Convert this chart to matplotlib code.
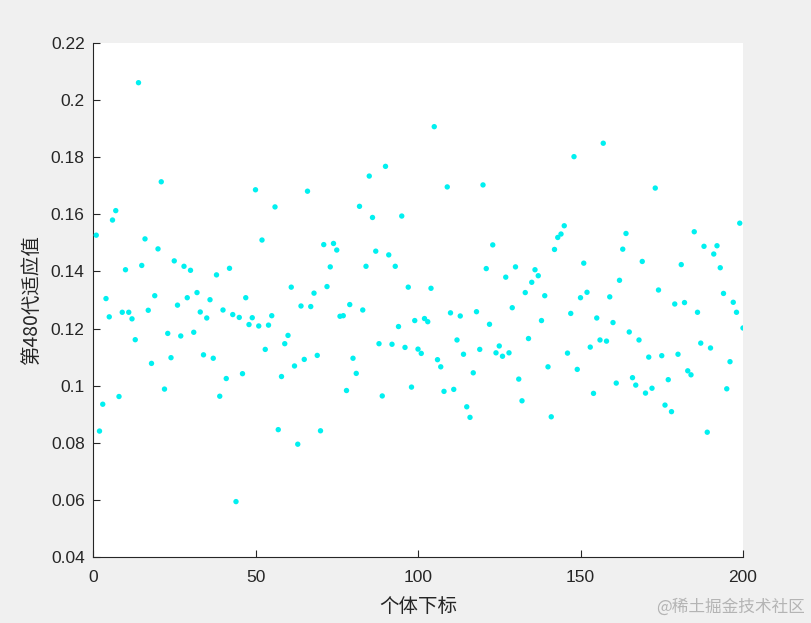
import matplotlib
matplotlib.use("Agg")
import matplotlib.pyplot as plt
import numpy as np

fitness = [
    0.1527, 0.0841, 0.0935, 0.1305, 0.1241, 0.1580, 0.1613, 0.0962, 0.1257, 0.1406,
    0.1257, 0.1234, 0.1161, 0.2061, 0.1421, 0.1514, 0.1264, 0.1078, 0.1315, 0.1479,
    0.1714, 0.0988, 0.1183, 0.1098, 0.1437, 0.1282, 0.1174, 0.1418, 0.1308, 0.1404,
    0.1187, 0.1326, 0.1258, 0.1108, 0.1237, 0.1301, 0.1096, 0.1388, 0.0963, 0.1265,
    0.1025, 0.1411, 0.1249, 0.0594, 0.1239, 0.1042, 0.1308, 0.1214, 0.1238, 0.1686,
    0.1209, 0.1510, 0.1127, 0.1212, 0.1245, 0.1626, 0.0846, 0.1032, 0.1147, 0.1176,
    0.1345, 0.1069, 0.0795, 0.1279, 0.1092, 0.1681, 0.1277, 0.1324, 0.1106, 0.0842,
    0.1494, 0.1347, 0.1416, 0.1498, 0.1475, 0.1243, 0.1245, 0.0983, 0.1284, 0.1096,
    0.1043, 0.1628, 0.1265, 0.1418, 0.1734, 0.1589, 0.1471, 0.1147, 0.0964, 0.1768,
    0.1458, 0.1145, 0.1418, 0.1207, 0.1594, 0.1134, 0.1345, 0.0995, 0.1228, 0.1128,
    0.1113, 0.1235, 0.1224, 0.1341, 0.1907, 0.1091, 0.1066, 0.0980, 0.1696, 0.1255,
    0.0987, 0.1160, 0.1244, 0.1110, 0.0926, 0.0889, 0.1045, 0.1259, 0.1127, 0.1703,
    0.1410, 0.1215, 0.1493, 0.1115, 0.1139, 0.1103, 0.1380, 0.1115, 0.1273, 0.1416,
    0.1023, 0.0947, 0.1326, 0.1165, 0.1362, 0.1406, 0.1385, 0.1228, 0.1315, 0.1066,
    0.0891, 0.1477, 0.1519, 0.1531, 0.1560, 0.1114, 0.1253, 0.1802, 0.1057, 0.1308,
    0.1429, 0.1327, 0.1135, 0.0973, 0.1237, 0.1160, 0.1849, 0.1156, 0.1311, 0.1221,
    0.1009, 0.1369, 0.1478, 0.1533, 0.1188, 0.1028, 0.1002, 0.1160, 0.1435, 0.0974,
    0.1100, 0.0991, 0.1692, 0.1335, 0.1105, 0.0932, 0.1021, 0.0909, 0.1286, 0.1110,
    0.1424, 0.1291, 0.1052, 0.1038, 0.1539, 0.1257, 0.1149, 0.1488, 0.0837, 0.1132,
    0.1461, 0.1490, 0.1413, 0.1323, 0.0989, 0.1084, 0.1292, 0.1257, 0.1569, 0.1202,
]
index = np.arange(1, len(fitness) + 1)

xticks = [0, 50, 100, 150, 200]
yticks = [0.04, 0.06, 0.08, 0.1, 0.12, 0.14, 0.16, 0.18, 0.2, 0.22]
yticklabels = ["0.04", "0.06", "0.08", "0.1", "0.12", "0.14", "0.16", "0.18", "0.2", "0.22"]

plt.rcParams['font.family'] = ['Liberation Sans', 'Noto Sans CJK SC', 'DejaVu Sans']

fig = plt.figure(figsize=(8.11, 6.23), dpi=100, facecolor='#f0f0f0')
ax = fig.add_axes([93/811, 1-557/623, 650/811, 514/623])
ax.set_facecolor('white')

ax.scatter(index, fitness, s=15, color='#00f0f0', edgecolors='none', zorder=3)

ax.set_xlim(0, 200)
ax.set_ylim(0.04, 0.22)
ax.set_xticks(xticks)
ax.set_yticks(yticks)
ax.set_yticklabels(yticklabels)
ax.tick_params(direction='in', length=5, width=0.8, labelsize=12.5, colors='#262626', pad=6)
ax.tick_params(axis='x', pad=9)
for s in ['top', 'right']:
    ax.spines[s].set_visible(False)
for s in ['left', 'bottom']:
    ax.spines[s].set_color('#262626')
    ax.spines[s].set_linewidth(0.8)

ax.set_xlabel('个体下标', fontsize=14, color='#262626', family=['Noto Sans CJK SC', 'DejaVu Sans'], labelpad=8)
ax.set_ylabel('第480代适应值', fontsize=14, color='#262626', family=['Noto Sans CJK SC', 'DejaVu Sans'], labelpad=6)

fig.text(805/811, 1-607/623, '@稀土掘金技术社区', ha='right', va='center', fontsize=12,
         color='#b4b4b4', family=['Noto Sans CJK SC', 'DejaVu Sans'])

fig.savefig('out.png', dpi=100, facecolor=fig.get_facecolor())
